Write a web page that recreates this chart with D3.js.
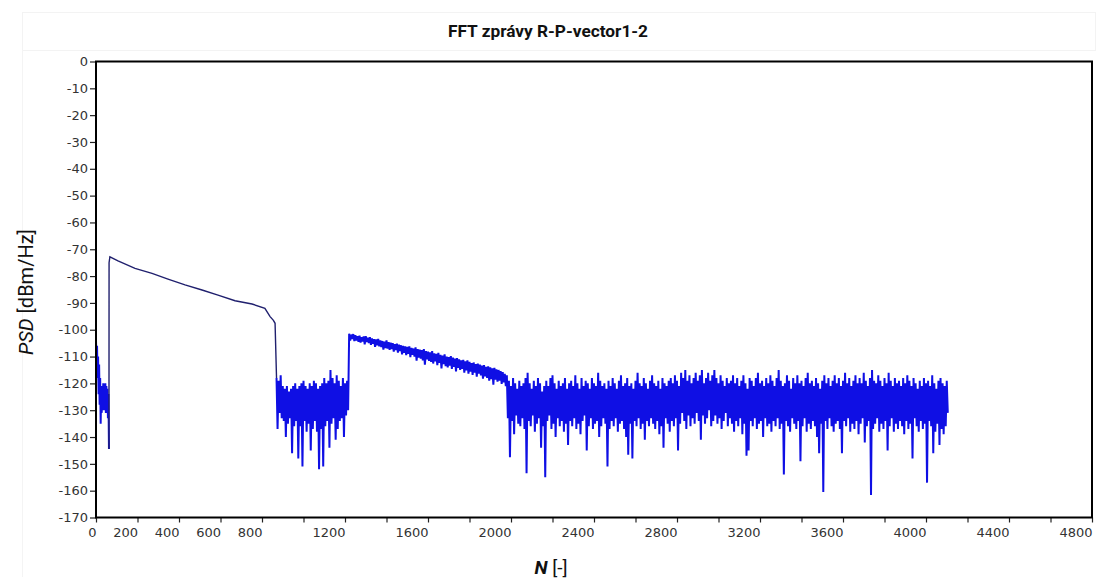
<!DOCTYPE html>
<html><head><meta charset="utf-8">
<script src="https://cdn.jsdelivr.net/npm/d3@7"></script>
<style>body{margin:0;background:#fff}</style>
</head><body><svg id="c" width="1097" height="579"></svg>
<script>
const chartTitle = "FFT zprávy R-P-vector1-2";
const xDomain = [0, 4800];
const yDomain = [-170, 0];
const xTicks = [0,200,400,600,800,1000,1200,1400,1600,1800,2000,2200,2400,2600,2800,3000,3200,3400,3600,3800,4000,4200,4400,4600,4800];
const xLabels = [0,200,400,600,800,1200,1600,2000,2400,2800,3200,3600,4000,4400,4800];
const yTicks = [0,-10,-20,-30,-40,-50,-60,-70,-80,-90,-100,-110,-120,-130,-140,-150,-160,-170];

// noise region 1 (bins of 5 starting at N=0)
const seg1Start = 0, seg1Step = 5;
const seg1Hi = [-104,-106,-110,-113,-118,-121,-122,-120,-121,-120,-121,-122,-124];
const seg1Lo = [-112,-118,-124,-128,-135,-131,-128,-130,-129,-131,-130,-133,-144.5];

// first plateau
const plateau1N = [63,67,106,188,270,347,429,511,588,670,752,814,839,855,863];
const plateau1V = [-75,-72.8,-74.3,-77.1,-79,-81.1,-83.3,-85.2,-87.1,-89.2,-90.4,-92,-95.1,-96.5,-97.6];

// noise region 2 (bins of 10 starting at N=870)
const seg2Start = 870, seg2Step = 10;
const seg2Hi = [-118,-119,-117,-121,-122,-121,-123,-122,-121,-120,-122,-121,-120,-119,-121,-122,-120,-121,-119,-120,-122,-121,-120,-118,-120,-119,-115,-118,-120,-117,-119,-121,-118,-120,-119];
const seg2Lo = [-137,-131,-133,-134,-140,-135,-133,-146,-136,-134,-148,-136,-151,-134,-138,-135,-145,-137,-134,-138,-152,-137,-151,-136,-134,-144,-135,-133,-141,-137,-134,-133,-140,-132,-130];

// second plateau (bins of 10 starting at N=1220)
const plateau2Start = 1220, plateau2Step = 10;
const plateau2Hi = [-101.5,-101.8,-101.6,-102,-102.4,-102.2,-102.8,-102.5,-102.4,-103,-102.8,-103.2,-103.5,-103.6,-103.4,-104,-104.2,-104.4,-104,-104.6,-104.8,-105,-105.4,-105.2,-105.6,-105.8,-106,-106.2,-106.4,-106.2,-106.8,-107,-106.6,-107.2,-107.4,-107.6,-107.2,-108,-108.2,-108.4,-108,-108.8,-109,-108.6,-109.4,-109.6,-109.2,-110,-110.2,-109.8,-110.4,-110.8,-110.6,-111,-111.4,-111.2,-111.8,-111.4,-112,-112.4,-112.2,-112.8,-112.6,-113,-113.4,-113.2,-113.8,-113.6,-114,-114.4,-114.2,-114.8,-115,-115.4,-115.8,-116.4];
const plateau2Lo = [-104,-103.5,-104.2,-104,-104.5,-104.8,-104.4,-105.5,-104.6,-105,-105.6,-105.2,-106.4,-105.8,-106.2,-106.5,-107.4,-106.8,-107,-107.5,-107.2,-108.2,-107.6,-108.5,-108,-109.2,-108.6,-109.5,-109,-110.2,-109.4,-110,-111.5,-110.4,-110.8,-111.4,-113,-111,-111.6,-112,-112.6,-111.8,-113.2,-112.4,-114.4,-112.8,-113.6,-114,-113.4,-114.6,-113.8,-115.5,-114.2,-115,-114.6,-116,-115.2,-116.4,-115.6,-116.8,-116,-117.5,-116.4,-117,-118.2,-117.4,-118,-119,-118.4,-120.5,-118.6,-119.4,-119,-120.2,-119.6,-121];

// noise region 3 (bins of 10 starting at N=1980)
const seg3Start = 1980, seg3Step = 10;
const seg3Hi = [
-117,-119,-121,-118,-120,-122,-119,-121,-120,-118,
-116,-120,-122,-119,-121,-118,-120,-123,-121,-119,
-121,-118,-117,-120,-122,-119,-121,-120,-118,-122,
-120,-119,-121,-117,-120,-122,-118,-121,-119,-120,
-122,-118,-120,-121,-116,-119,-121,-120,-122,-119,
-121,-118,-120,-122,-119,-117,-121,-120,-118,-121,
-120,-122,-119,-116,-120,-121,-118,-120,-122,-119,
-117,-120,-121,-119,-122,-118,-120,-121,-119,-118,
-120,-117,-119,-121,-116,-118,-115,-119,-117,-120,
-118,-116,-119,-117,-115,-120,-118,-116,-119,-117,
-115,-118,-120,-117,-119,-121,-118,-120,-119,-117,
-120,-118,-121,-119,-117,-120,-122,-118,-119,-121,
-118,-116,-120,-119,-121,-118,-120,-117,-119,-121,
-118,-115,-119,-121,-120,-117,-119,-122,-118,-120,
-117,-120,-119,-121,-118,-116,-120,-119,-121,-118,
-120,-122,-119,-117,-120,-118,-121,-119,-117,-120,
-118,-121,-119,-116,-120,-118,-121,-119,-117,-120,
-118,-120,-116,-119,-121,-118,-115,-119,-120,-117,
-119,-121,-118,-120,-116,-119,-121,-118,-120,-119,
-121,-118,-120,-117,-119,-121,-118,-120,-122,-119,
-121,-118,-120,-119,-121,-117,-120,-122,-119,-118,
-120,-121,-119];
const seg3Lo = [
-133,-147.5,-134,-139,-132,-135,-136,-133,-137,-153.5,
-134,-136,-132,-138,-135,-133,-144,-136,-155,-134,
-132,-137,-135,-140,-133,-136,-134,-138,-135,-143,
-134,-136,-133,-137,-135,-139,-134,-132,-145,-136,
-133,-137,-135,-134,-140,-136,-133,-135,-151,-137,
-134,-136,-133,-138,-135,-134,-137,-140,-146.6,-135,
-148,-134,-136,-133,-137,-135,-141,-134,-136,-133,
-135,-137,-134,-139,-136,-144,-133,-135,-138,-134,
-136,-133,-145,-135,-131,-134,-137,-132,-136,-133,
-135,-131,-134,-141,-132,-135,-133,-130,-136,-134,
-132,-135,-133,-137,-134,-131,-136,-133,-135,-138,
-134,-136,-133,-139,-135,-147,-145,-134,-136,-133,
-137,-135,-134,-140,-133,-136,-135,-138,-134,-136,
-133,-137,-135,-154,-134,-136,-138,-133,-135,-137,
-134,-149,-136,-133,-138,-135,-137,-134,-136,-140,
-146,-135,-160.5,-134,-137,-133,-136,-138,-135,-134,
-137,-146,-134,-136,-133,-138,-135,-137,-134,-139,
-135,-133,-142,-136,-134,-161.6,-137,-135,-133,-138,
-135,-137,-134,-145,-136,-133,-138,-135,-137,-134,
-136,-139,-134,-137,-135,-148,-133,-136,-138,-134,
-137,-135,-157,-134,-136,-146,-138,-135,-143,-137,
-139,-136,-131];

const svg = d3.select("#c");
const M = {left: 96, right: 1092, top: 61.5, bottom: 517.5};

const x = d3.scaleLinear().domain(xDomain).range([M.left, M.right]);
const y = d3.scaleLinear().domain(yDomain).range([M.bottom, M.top]);

// faint frame
svg.append("rect").attr("x",22.5).attr("y",12.5).attr("width",1073).attr("height",38)
  .attr("fill","none").attr("stroke","#f3f3f3");
svg.append("line").attr("x1",22.5).attr("x2",22.5).attr("y1",50).attr("y2",577)
  .attr("stroke","#f4f4f4");

// title
svg.append("text").attr("x",548).attr("y",37).attr("text-anchor","middle")
  .attr("font-family","Roboto, 'Open Sans', sans-serif").attr("font-weight","bold")
  .attr("font-size",16).attr("fill","#111")
  .attr("textLength",200).attr("lengthAdjust","spacingAndGlyphs")
  .text(chartTitle);

function bands(start, step, hi, lo) {
  return hi.flatMap((h, i) => [[start + i*step, h], [start + i*step + step/2, lo[i]]]);
}
const seg1 = bands(seg1Start, seg1Step, seg1Hi, seg1Lo);
const plat1 = plateau1N.map((n, i) => [n, plateau1V[i]]);
const seg2 = bands(seg2Start, seg2Step, seg2Hi, seg2Lo);
const plat2 = bands(plateau2Start, plateau2Step, plateau2Hi, plateau2Lo);
const seg3 = bands(seg3Start, seg3Step, seg3Hi, seg3Lo);

const line = d3.line().x(d => x(d[0])).y(d => y(d[1]));
const g = svg.append("g");
g.append("path").datum(seg1).attr("d", line).attr("fill","none")
  .attr("stroke","#0f0fe4").attr("stroke-width",2);
g.append("path").datum([seg1[seg1.length-1], ...plat1, seg2[0]]).attr("d", line).attr("fill","none")
  .attr("stroke","#20206e").attr("stroke-width",1.4);
g.append("path").datum([...seg2, ...plat2, ...seg3]).attr("d", line).attr("fill","none")
  .attr("stroke","#0f0fe4").attr("stroke-width",2).attr("stroke-linejoin","bevel");

// axes
const fontAxis = "'DejaVu Sans', Verdana, sans-serif";
const labelSet = new Set(xLabels);
const xAxis = d3.axisBottom(x).tickValues(xTicks).tickSize(5).tickSizeOuter(0)
  .tickFormat(d => labelSet.has(d) ? String(d) : "");
const gx = svg.append("g").attr("transform", `translate(0,${M.bottom})`).call(xAxis);
gx.select(".domain").remove();
gx.selectAll("line").attr("stroke","#222").attr("stroke-width",1.2);
gx.selectAll("text").attr("text-anchor","end").attr("x",0).attr("y",10)
  .attr("font-family",fontAxis).attr("font-size",13).attr("fill","#333");

const yAxis = d3.axisLeft(y).tickValues(yTicks).tickSize(6).tickSizeOuter(0)
  .tickFormat(d => String(d));
const gy = svg.append("g").attr("transform", `translate(${M.left},0)`).call(yAxis);
gy.select(".domain").remove();
gy.selectAll("line").attr("stroke","#222").attr("stroke-width",1.2);
gy.selectAll("text").attr("x",-8).attr("font-family",fontAxis).attr("font-size",13).attr("fill","#333");

// plot frame
svg.append("rect").attr("x",M.left).attr("y",M.top).attr("width",M.right-M.left).attr("height",M.bottom-M.top)
  .attr("fill","none").attr("stroke","#000").attr("stroke-width",2);

// axis titles
const yt = svg.append("text").attr("transform","translate(33,292) rotate(-90)").attr("text-anchor","middle")
  .attr("font-family","Roboto, sans-serif").attr("font-size",20).attr("fill","#111");
yt.append("tspan").attr("font-style","italic").text("PSD");
yt.append("tspan").text(" [dBm/Hz]");

const xt = svg.append("text").attr("x",551).attr("y",574).attr("text-anchor","middle")
  .attr("font-family","Roboto, sans-serif").attr("font-size",19).attr("fill","#111");
xt.append("tspan").attr("font-style","italic").attr("font-weight","bold").text("N");
xt.append("tspan").text(" [-]");
</script></body></html>
